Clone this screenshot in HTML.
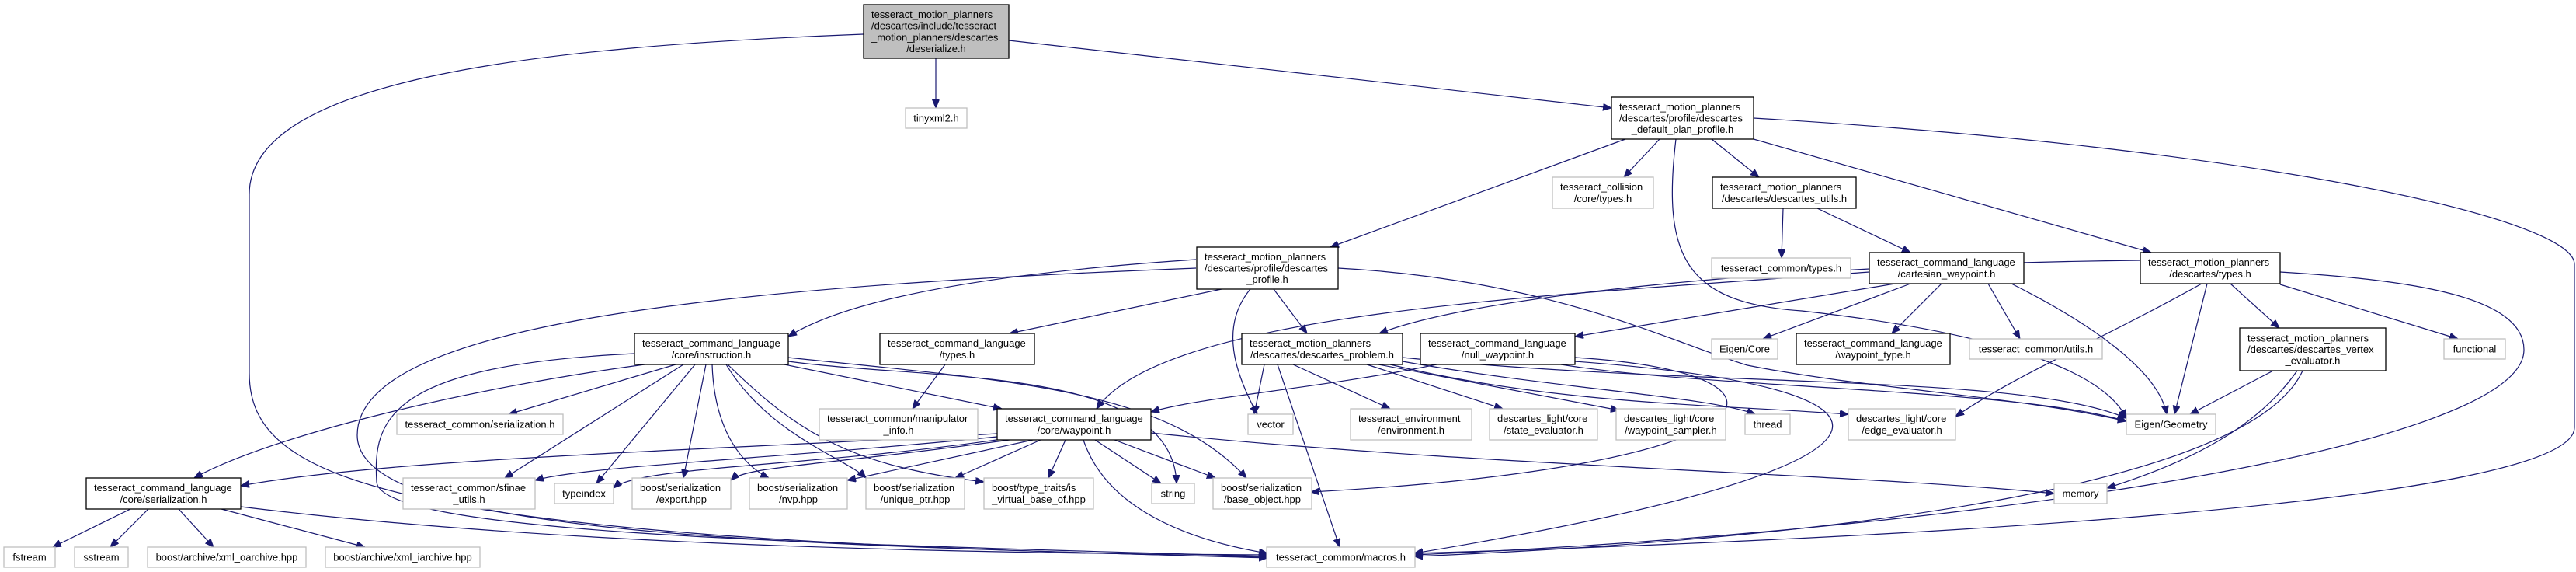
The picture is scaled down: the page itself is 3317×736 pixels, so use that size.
<!DOCTYPE html>
<html><head><meta charset="utf-8">
<style>
html,body{margin:0;padding:0;background:#fff;}
svg{display:block;}
text{font-family:"Liberation Sans",sans-serif;font-size:13px;fill:#000;}
.e{fill:none;stroke:#191970;stroke-width:1.2;marker-end:url(#a);}
.b{fill:#fff;stroke:#000;stroke-width:1.3;}
.g{fill:#fff;stroke:#bfbfbf;stroke-width:1.3;}
.c{text-anchor:middle;}
</style></head><body>
<svg width="3317" height="736" viewBox="0 0 3317 736" xmlns="http://www.w3.org/2000/svg">
<defs><marker id="a" markerUnits="userSpaceOnUse" markerWidth="12" markerHeight="10" refX="11" refY="4.5" orient="auto"><path d="M0,0 L11,4.5 L0,9 z" fill="#191970" stroke="#191970"/></marker></defs>

<!-- edges -->
<path class="e" d="M1205,75 L1205,139"/>
<path class="e" d="M1299,52 L2075,139"/>
<path class="e" d="M1112,44 C700,60 321,100 321,250 L321,480 C321,620 500,695 1632,717"/>
<path class="e" d="M2093,179 L1713,318"/>
<path class="e" d="M2137,179 L2091,228"/>
<path class="e" d="M2204,179 L2265,228"/>
<path class="e" d="M2258,179 L2770,325"/>
<path class="e" d="M2258,152 C2900,190 3315,280 3315,340 L3315,550 C3315,650 2400,695 1821,712"/>
<path class="e" d="M2158,179 C2140,330 2170,390 2320,400 C2500,420 2700,460 2738,538"/>
<path class="e" d="M2296,268 L2294,332"/>
<path class="e" d="M2340,268 L2460,325"/>
<path class="e" d="M2407,350 C2000,380 1500,400 1412,526"/>
<path class="e" d="M2440,365 L2028,433"/>
<path class="e" d="M2460,365 L2270,436"/>
<path class="e" d="M2500,365 L2436,429"/>
<path class="e" d="M2560,365 L2601,436"/>
<path class="e" d="M2590,365 C2700,420 2780,480 2790,533"/>
<path class="e" d="M2756,335 C2300,340 1900,380 1776,429"/>
<path class="e" d="M2835,365 C2700,440 2600,480 2518,536"/>
<path class="e" d="M2842,365 L2800,533"/>
<path class="e" d="M2872,365 L2935,422"/>
<path class="e" d="M2936,366 L3165,436"/>
<path class="e" d="M2936,350 C3100,360 3250,380 3250,450 C3250,580 2500,685 1821,714"/>
<path class="e" d="M2927,477 L2820,533"/>
<path class="e" d="M2958,477 C2900,560 2800,600 2713,628"/>
<path class="e" d="M2965,477 C2900,620 2400,692 1821,716"/>
<path class="e" d="M1540,334 C1300,350 1100,380 1015,433"/>
<path class="e" d="M1573,372 L1300,429"/>
<path class="e" d="M1640,372 L1683,429"/>
<path class="e" d="M1610,372 C1570,420 1590,480 1619,533"/>
<path class="e" d="M1540,345 C900,370 460,420 460,560 C460,690 1000,700 1632,718"/>
<path class="e" d="M1723,345 C2000,360 2150,440 2250,470 C2400,500 2600,510 2738,542"/>
<path class="e" d="M830,469 C600,500 350,560 250,615"/>
<path class="e" d="M870,469 L655,533"/>
<path class="e" d="M880,469 L650,615"/>
<path class="e" d="M895,469 L768,622"/>
<path class="e" d="M909,469 L880,615"/>
<path class="e" d="M917,469 C920,560 960,600 990,615"/>
<path class="e" d="M935,469 C990,560 1090,590 1115,615"/>
<path class="e" d="M937,469 C1030,560 1100,600 1267,620"/>
<path class="e" d="M1015,465 C1200,490 1510,470 1515,622"/>
<path class="e" d="M1015,460 C1300,490 1500,500 1605,615"/>
<path class="e" d="M1010,469 L1290,526"/>
<path class="e" d="M817,455 C500,470 480,540 485,620 C490,690 1100,700 1632,716"/>
<path class="e" d="M1217,469 L1175,526"/>
<path class="e" d="M1628,469 L1615,533"/>
<path class="e" d="M1665,469 L1790,526"/>
<path class="e" d="M1760,469 L1935,526"/>
<path class="e" d="M1775,469 L2085,528"/>
<path class="e" d="M1790,469 C2000,520 2200,520 2380,533"/>
<path class="e" d="M1806,460 C2200,500 2600,480 2738,538"/>
<path class="e" d="M1645,469 L1725,704"/>
<path class="e" d="M1806,465 C2000,500 2200,510 2260,533"/>
<path class="e" d="M1850,469 C1700,500 1550,510 1482,530"/>
<path class="e" d="M2028,460 C2350,480 2300,600 1688,633"/>
<path class="e" d="M2028,465 C2500,500 2500,600 1821,712"/>
<path class="e" d="M2010,469 C2200,500 2600,500 2738,542"/>
<path class="e" d="M1284,558 C900,580 500,590 310,625"/>
<path class="e" d="M1284,562 C1000,590 750,600 689,618"/>
<path class="e" d="M1290,565 C1050,600 820,600 790,628"/>
<path class="e" d="M1300,566 C1050,600 960,600 941,618"/>
<path class="e" d="M1330,566 L1091,618"/>
<path class="e" d="M1340,566 L1230,615"/>
<path class="e" d="M1372,566 L1350,615"/>
<path class="e" d="M1410,566 L1495,622"/>
<path class="e" d="M1435,566 L1565,615"/>
<path class="e" d="M1395,566 C1420,640 1500,690 1632,712"/>
<path class="e" d="M1482,557 C1900,600 2400,610 2645,635"/>
<path class="e" d="M168,655 L68,704"/>
<path class="e" d="M191,655 L142,704"/>
<path class="e" d="M230,655 L275,704"/>
<path class="e" d="M285,655 L470,704"/>
<path class="e" d="M310,652 C700,700 1200,712 1632,714"/>

<!-- nodes -->
<rect x="1112" y="6" width="187" height="69" fill="#bfbfbf" stroke="#000" stroke-width="1.3"/>
<text x="1122" y="23">tesseract_motion_planners</text>
<text x="1122" y="37.7">/descartes/include/tesseract</text>
<text x="1122" y="52.4">_motion_planners/descartes</text>
<text class="c" x="1205.5" y="67.1">/deserialize.h</text>

<rect class="g" x="1166" y="139" width="79" height="26"/><text class="c" x="1205.5" y="156.5">tinyxml2.h</text>

<rect class="b" x="2075" y="125" width="183" height="54"/>
<text x="2085" y="141.8">tesseract_motion_planners</text>
<text x="2085" y="156.5">/descartes/profile/descartes</text>
<text class="c" x="2166.5" y="171.2">_default_plan_profile.h</text>

<rect class="g" x="1999" y="228" width="130" height="40"/>
<text x="2009" y="245.2">tesseract_collision</text><text class="c" x="2064" y="259.9">/core/types.h</text>

<rect class="b" x="2205" y="228" width="185" height="40"/>
<text x="2215" y="245.2">tesseract_motion_planners</text><text class="c" x="2297.5" y="259.9">/descartes/descartes_utils.h</text>

<rect class="g" x="2204" y="332" width="179" height="26"/><text class="c" x="2293.5" y="349.5">tesseract_common/types.h</text>

<rect class="b" x="2407" y="325" width="199" height="40"/>
<text x="2417" y="342.2">tesseract_command_language</text><text class="c" x="2506.5" y="356.9">/cartesian_waypoint.h</text>

<rect class="b" x="2756" y="325" width="180" height="40"/>
<text x="2766" y="342.2">tesseract_motion_planners</text><text class="c" x="2846" y="356.9">/descartes/types.h</text>

<rect class="b" x="1541" y="318" width="182" height="54"/>
<text x="1551" y="334.8">tesseract_motion_planners</text>
<text x="1551" y="349.5">/descartes/profile/descartes</text>
<text class="c" x="1632" y="364.2">_profile.h</text>

<rect class="b" x="817" y="429" width="198" height="40"/>
<text x="827" y="446.2">tesseract_command_language</text><text class="c" x="916" y="460.9">/core/instruction.h</text>

<rect class="b" x="1133" y="429" width="199" height="40"/>
<text x="1143" y="446.2">tesseract_command_language</text><text class="c" x="1232.5" y="460.9">/types.h</text>

<rect class="b" x="1599" y="429" width="207" height="40"/>
<text x="1609" y="446.2">tesseract_motion_planners</text><text class="c" x="1702.5" y="460.9">/descartes/descartes_problem.h</text>

<rect class="b" x="1829" y="429" width="199" height="40"/>
<text x="1839" y="446.2">tesseract_command_language</text><text class="c" x="1928.5" y="460.9">/null_waypoint.h</text>

<rect class="g" x="2204" y="436" width="85" height="26"/><text class="c" x="2246.5" y="453.5">Eigen/Core</text>

<rect class="b" x="2313" y="429" width="198" height="40"/>
<text x="2323" y="446.2">tesseract_command_language</text><text class="c" x="2412" y="460.9">/waypoint_type.h</text>

<rect class="g" x="2536" y="436" width="171" height="26"/><text class="c" x="2621.5" y="453.5">tesseract_common/utils.h</text>

<rect class="b" x="2884" y="422" width="188" height="55"/>
<text x="2894" y="439.3">tesseract_motion_planners</text>
<text x="2894" y="454">/descartes/descartes_vertex</text>
<text class="c" x="2978" y="468.7">_evaluator.h</text>

<rect class="g" x="3147" y="436" width="79" height="26"/><text class="c" x="3186.5" y="453.5">functional</text>

<rect class="g" x="511" y="533" width="214" height="26"/><text class="c" x="618" y="550.5">tesseract_common/serialization.h</text>

<rect class="g" x="1055" y="526" width="204" height="40"/>
<text x="1065" y="543.2">tesseract_common/manipulator</text><text class="c" x="1157" y="557.9">_info.h</text>

<rect class="b" x="1284" y="526" width="198" height="40"/>
<text x="1294" y="543.2">tesseract_command_language</text><text class="c" x="1383" y="557.9">/core/waypoint.h</text>

<rect class="g" x="1607" y="533" width="58" height="26"/><text class="c" x="1636" y="550.5">vector</text>

<rect class="g" x="1739" y="526" width="156" height="40"/>
<text x="1749" y="543.2">tesseract_environment</text><text class="c" x="1817" y="557.9">/environment.h</text>

<rect class="g" x="1918" y="526" width="139" height="40"/>
<text x="1928" y="543.2">descartes_light/core</text><text class="c" x="1987.5" y="557.9">/state_evaluator.h</text>

<rect class="g" x="2081" y="526" width="141" height="40"/>
<text x="2091" y="543.2">descartes_light/core</text><text class="c" x="2151.5" y="557.9">/waypoint_sampler.h</text>

<rect class="g" x="2247" y="533" width="58" height="26"/><text class="c" x="2276" y="550.5">thread</text>

<rect class="g" x="2380" y="526" width="138" height="40"/>
<text x="2390" y="543.2">descartes_light/core</text><text class="c" x="2449" y="557.9">/edge_evaluator.h</text>

<rect class="g" x="2738" y="533" width="115" height="26"/><text class="c" x="2795.5" y="550.5">Eigen/Geometry</text>

<rect class="b" x="111" y="615" width="199" height="40"/>
<text x="121" y="632.2">tesseract_command_language</text><text class="c" x="210.5" y="646.9">/core/serialization.h</text>

<rect class="g" x="519" y="615" width="170" height="40"/>
<text x="529" y="632.2">tesseract_common/sfinae</text><text class="c" x="604" y="646.9">_utils.h</text>

<rect class="g" x="714" y="622" width="76" height="26"/><text class="c" x="752" y="639.5">typeindex</text>

<rect class="g" x="814" y="615" width="127" height="40"/>
<text x="824" y="632.2">boost/serialization</text><text class="c" x="877.5" y="646.9">/export.hpp</text>

<rect class="g" x="965" y="615" width="126" height="40"/>
<text x="975" y="632.2">boost/serialization</text><text class="c" x="1028" y="646.9">/nvp.hpp</text>

<rect class="g" x="1115" y="615" width="127" height="40"/>
<text x="1125" y="632.2">boost/serialization</text><text class="c" x="1178.5" y="646.9">/unique_ptr.hpp</text>

<rect class="g" x="1267" y="615" width="141" height="40"/>
<text x="1277" y="632.2">boost/type_traits/is</text><text class="c" x="1337.5" y="646.9">_virtual_base_of.hpp</text>

<rect class="g" x="1483" y="622" width="55" height="26"/><text class="c" x="1510.5" y="639.5">string</text>

<rect class="g" x="1562" y="615" width="127" height="40"/>
<text x="1572" y="632.2">boost/serialization</text><text class="c" x="1625.5" y="646.9">/base_object.hpp</text>

<rect class="g" x="2645" y="622" width="68" height="26"/><text class="c" x="2679" y="639.5">memory</text>

<rect class="g" x="5" y="704" width="66" height="26"/><text class="c" x="38" y="721.5">fstream</text>
<rect class="g" x="96" y="704" width="69" height="26"/><text class="c" x="130.5" y="721.5">sstream</text>
<rect class="g" x="190" y="704" width="204" height="26"/><text class="c" x="292" y="721.5">boost/archive/xml_oarchive.hpp</text>
<rect class="g" x="419" y="704" width="199" height="26"/><text class="c" x="518.5" y="721.5">boost/archive/xml_iarchive.hpp</text>
<rect class="g" x="1631" y="704" width="191" height="26"/><text class="c" x="1726.5" y="721.5">tesseract_common/macros.h</text>
</svg>
</body></html>
